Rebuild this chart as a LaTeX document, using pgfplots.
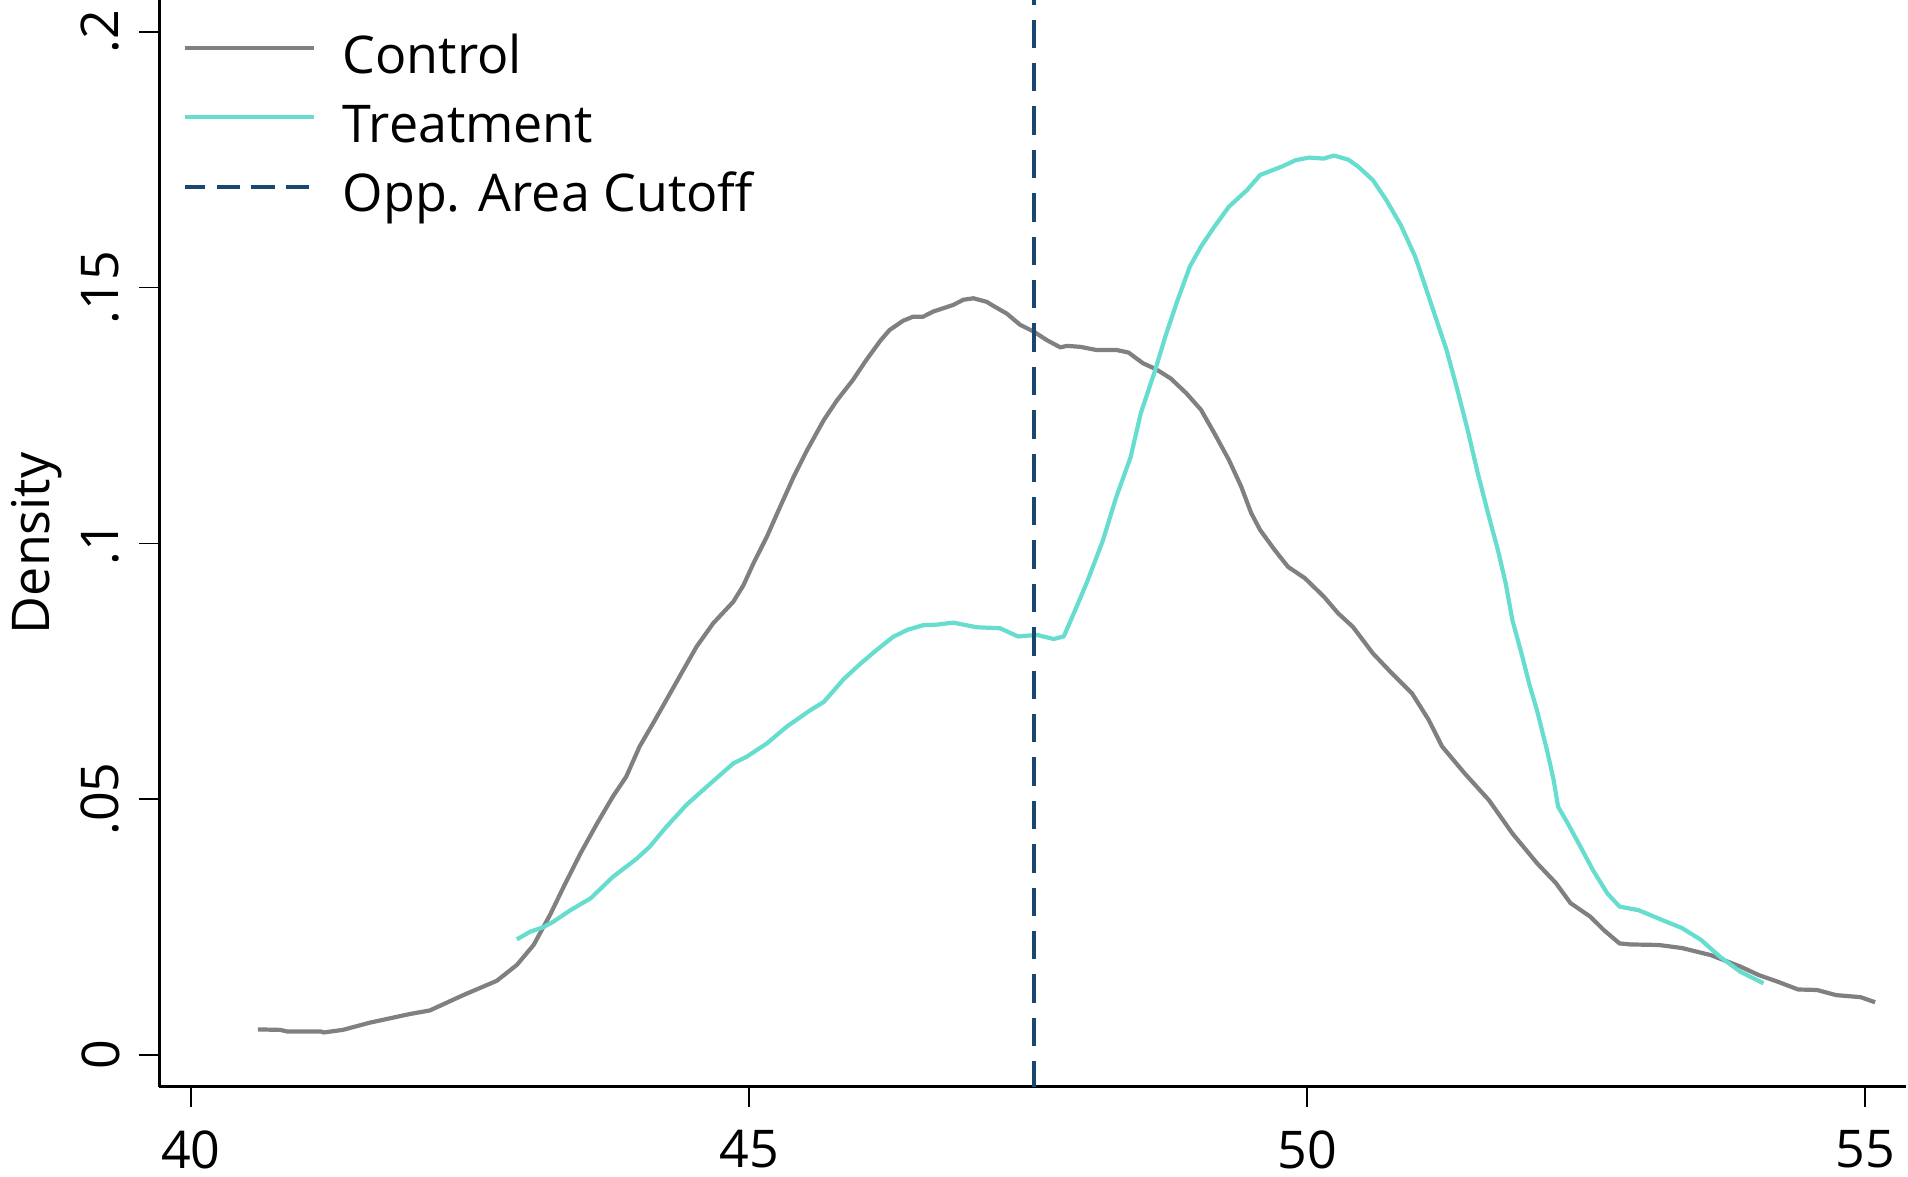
\documentclass[border=0pt]{standalone}
\usepackage{pgfplots}
\pgfplotsset{compat=1.18}
\usepackage{fontspec}
\setmainfont{Open Sans}

\definecolor{ctrlgray}{RGB}{128,128,128}
\definecolor{treatteal}{RGB}{102,221,206}
\definecolor{cutnavy}{RGB}{26,71,111}

% Kernel density estimates, read as (score, density)
\pgfplotstableread{
x y
40.60 0.0050
40.80 0.0049
40.86 0.0046
41.16 0.0046
41.19 0.0044
41.36 0.0049
41.60 0.0063
41.96 0.0080
42.14 0.0087
42.44 0.0117
42.74 0.0145
42.92 0.0176
43.07 0.0215
43.22 0.0275
43.34 0.0329
43.49 0.0394
43.64 0.0453
43.78 0.0505
43.90 0.0544
44.02 0.0603
44.14 0.0648
44.26 0.0694
44.41 0.0752
44.53 0.0798
44.68 0.0844
44.86 0.0886
44.95 0.0918
45.04 0.0961
45.16 0.1013
45.28 0.1072
45.40 0.1130
45.52 0.1182
45.67 0.1241
45.79 0.1280
45.93 0.1319
46.05 0.1358
46.18 0.1397
46.26 0.1417
46.38 0.1435
46.47 0.1443
46.56 0.1443
46.65 0.1453
46.83 0.1466
46.92 0.1476
47.01 0.1479
47.13 0.1472
47.19 0.1464
47.31 0.1449
47.43 0.1427
47.55 0.1414
47.67 0.1397
47.79 0.1383
47.85 0.1386
47.97 0.1384
48.11 0.1378
48.29 0.1378
48.40 0.1373
48.53 0.1352
48.65 0.1340
48.78 0.1322
48.92 0.1293
49.05 0.1261
49.17 0.1215
49.30 0.1163
49.41 0.1111
49.50 0.1059
49.58 0.1026
49.71 0.0987
49.83 0.0954
49.98 0.0932
50.15 0.0896
50.28 0.0863
50.41 0.0837
50.59 0.0785
50.76 0.0746
50.94 0.0707
51.09 0.0655
51.21 0.0603
51.41 0.0551
51.63 0.0498
51.84 0.0433
52.06 0.0375
52.23 0.0336
52.36 0.0297
52.54 0.0270
52.66 0.0244
52.80 0.0218
52.90 0.0216
53.15 0.0215
53.36 0.0209
53.62 0.0195
53.88 0.0173
54.05 0.0156
54.22 0.0143
54.40 0.0128
54.57 0.0127
54.74 0.0117
54.96 0.0113
55.09 0.0103
}\control

\pgfplotstableread{
x y
42.92 0.0226
43.04 0.0241
43.16 0.0250
43.25 0.0261
43.40 0.0283
43.58 0.0306
43.78 0.0348
43.99 0.0383
44.11 0.0407
44.26 0.0446
44.44 0.0489
44.62 0.0524
44.86 0.0570
44.98 0.0583
45.16 0.0609
45.34 0.0642
45.55 0.0674
45.67 0.0690
45.85 0.0735
46.00 0.0765
46.14 0.0791
46.29 0.0817
46.42 0.0831
46.56 0.0840
46.68 0.0841
46.83 0.0845
47.04 0.0836
47.25 0.0834
47.41 0.0818
47.58 0.0821
47.73 0.0813
47.82 0.0818
47.91 0.0863
48.03 0.0925
48.17 0.1005
48.29 0.1090
48.42 0.1169
48.51 0.1254
48.64 0.1339
48.73 0.1404
48.83 0.1469
48.95 0.1541
49.05 0.1580
49.17 0.1619
49.30 0.1658
49.46 0.1690
49.58 0.1720
49.77 0.1736
49.90 0.1749
50.02 0.1754
50.15 0.1752
50.24 0.1758
50.37 0.1750
50.46 0.1736
50.59 0.1710
50.71 0.1671
50.84 0.1622
50.97 0.1560
51.06 0.1502
51.15 0.1443
51.25 0.1378
51.34 0.1306
51.44 0.1221
51.53 0.1137
51.63 0.1052
51.71 0.0987
51.78 0.0922
51.84 0.0850
51.93 0.0778
51.99 0.0726
52.06 0.0674
52.15 0.0596
52.21 0.0537
52.25 0.0485
52.32 0.0459
52.45 0.0407
52.56 0.0362
52.69 0.0316
52.80 0.0290
52.97 0.0283
53.18 0.0264
53.36 0.0248
53.53 0.0225
53.70 0.0192
53.88 0.0163
54.09 0.0140
}\treatment

\begin{document}
\begin{tikzpicture}[font=\fontsize{13}{15.6}\selectfont]
\useasboundingbox (-39.85pt,-22.6pt) rectangle (437.15pt,271.65pt);
\begin{axis}[
  at={(0,0)}, anchor=south west,
  scale only axis, width=436.65pt, height=271.65pt,
  xmin=39.717, xmax=55.367, ymin=-0.00618, ymax=0.2062,
  axis x line*=bottom, axis y line*=left,
  axis line style={line width=0.6pt, black},
  xtick={40,45,50,55}, xticklabels={40,45,50,55},
  ytick={0,0.05,0.1,0.15,0.2}, yticklabels={0,.05,.1,.15,.2},
  tick align=outside, major tick length=5pt,
  tick style={line width=0.4pt, black},
  xticklabel style={anchor=north, inner sep=0pt},
  yticklabel style={rotate=90, anchor=south, inner sep=0pt},
  xticklabel shift=5.75pt, yticklabel shift=4.75pt,
  ylabel={Density},
  ylabel style={at={(axis description cs:-0.0632,0.5)}, anchor=base, inner sep=0pt},
  legend style={draw=none, fill=none, at={(axis description cs:0.0133,0.9695)},
    anchor=north west, inner sep=0pt, outer sep=0pt, row sep=4.35pt,
    nodes={inner sep=0pt, text height=10pt, text depth=3pt},
    /tikz/every odd column/.append style={column sep=6.7pt}},
  legend cell align=left,
  legend image code/.code={\draw[#1] (0pt,2.8pt) -- (32.25pt,2.8pt);},
  line join=round,
]
\addplot[ctrlgray, line width=1.05pt] table {\control};
\addlegendentry{Control}
\addplot[treatteal, line width=1.05pt] table {\treatment};
\addlegendentry{Treatment}
\addplot[cutnavy, line width=1.05pt, dash pattern=on 7.1pt off 3.75pt, dash phase=0.75pt,
  legend image code/.code={\draw[cutnavy, line width=1.05pt, dash pattern=on 5.8pt off 2.9pt] (0pt,2.8pt) -- (32.25pt,2.8pt);}]
  coordinates {(47.55,-0.00618) (47.55,0.2062)};
\addlegendentry{Opp. Area Cutoff}
\end{axis}
\end{tikzpicture}
\end{document}
